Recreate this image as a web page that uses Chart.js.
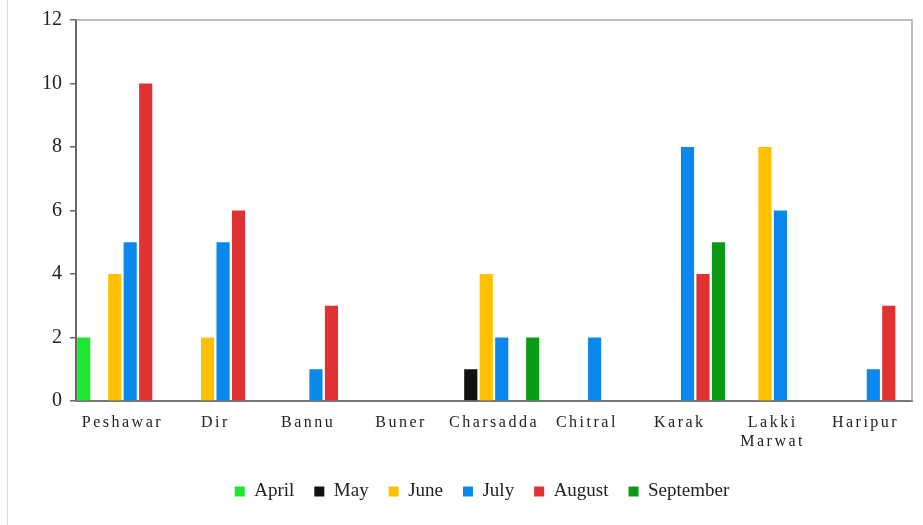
<!DOCTYPE html>
<html>
<head>
<meta charset="utf-8">
<script src="https://cdn.jsdelivr.net/npm/chart.js@4"></script>
<style>
  html, body { margin: 0; background: #fff; }
  #wrap { width: 923px; height: 525px; position: relative; }
</style>
</head>
<body>
<div id="wrap"><canvas id="chart"></canvas></div>
<script>
// data
const districts = ['Peshawar', 'Dir', 'Bannu', 'Buner', 'Charsadda', 'Chitral', 'Karak', ['Lakki', 'Marwat'], 'Haripur'];
const april     = [2, null, null, null, null, null, null, null, null];
const may       = [null, null, null, null, 1, null, null, null, null];
const june      = [4, 2, null, null, 4, null, null, 8, null];
const july      = [5, 5, 1, null, 2, 2, 8, 6, 1];
const august    = [10, 6, 3, null, null, null, 4, null, 3];
const september = [null, null, null, null, 2, null, 5, null, null];
const yTicks    = [0, 2, 4, 6, 8, 10, 12];

const serif = "'Liberation Serif', 'Times New Roman', serif";

// frame lines (top + right) and the faint page edge on the left
const framePlugin = {
  id: 'frame',
  afterUpdate(chart) {
    // legend sits a bit right of the canvas centre in the original
    const lg = chart.legend;
    lg.left += 11;
    lg.right += 11;
    lg.adjustHitBoxes();
  },
  beforeDraw(chart) {
    const ctx = chart.ctx;
    ctx.save();
    ctx.fillStyle = '#dcdcdc';
    ctx.fillRect(7, 0, 1, chart.height);
    ctx.restore();
  },
  beforeDatasetsDraw(chart) {
    const { ctx, chartArea } = chart;
    ctx.save();
    ctx.strokeStyle = '#a8a8a8';
    ctx.lineWidth = 1.5;
    ctx.beginPath();
    ctx.moveTo(chartArea.left, chartArea.top);
    ctx.lineTo(chartArea.right, chartArea.top);
    ctx.lineTo(chartArea.right, chartArea.bottom);
    ctx.stroke();
    ctx.restore();
  }
};

// category labels are letter-spaced in the original
const spacingPlugin = {
  id: 'spacing',
  beforeDraw(chart) {
    const x = chart.scales.x;
    if (x._spaced) return;
    const orig = x.drawLabels;
    x.drawLabels = function(area) {
      this.ctx.save();
      this.ctx.letterSpacing = '2.5px';
      orig.call(this, area);
      this.ctx.restore();
    };
    x._spaced = true;
  }
};

const ctx = document.getElementById('chart').getContext('2d');
new Chart(ctx, {
  type: 'bar',
  data: {
    labels: districts,
    datasets: [
      { label: 'April', data: april, backgroundColor: '#1ee52e' },
      { label: 'May', data: may, backgroundColor: '#111111' },
      { label: 'June', data: june, backgroundColor: '#ffc000' },
      { label: 'July', data: july, backgroundColor: '#0a88ee' },
      { label: 'August', data: august, backgroundColor: '#e03232' },
      { label: 'September', data: september, backgroundColor: '#0b9a16' }
    ]
  },
  options: {
    responsive: true,
    maintainAspectRatio: false,
    animation: false,
    layout: { padding: { left: 30, right: 11, top: 19, bottom: 14 } },
    datasets: { bar: { categoryPercentage: 1.0, barPercentage: 0.85 } },
    scales: {
      y: {
        min: 0,
        max: 12,
        afterFit(s) { s.width = 46; },
        afterBuildTicks(s) { s.ticks = yTicks.map(v => ({ value: v })); },
        ticks: { font: { family: serif, size: 20 }, color: '#222', padding: 8 },
        grid: { drawOnChartArea: false, drawTicks: true, tickLength: 6, color: '#666', lineWidth: 1.5 },
        border: { color: '#666', width: 2 }
      },
      x: {
        afterFit(s) { s.height = 61; },
        ticks: { font: { family: serif, size: 16 }, color: '#222', padding: 4, autoSkip: false, maxRotation: 0 },
        grid: { display: false },
        border: { color: '#777', width: 2 }
      }
    },
    plugins: {
      legend: {
        position: 'bottom',
        labels: { boxWidth: 10, boxHeight: 10, font: { family: serif, size: 19 }, color: '#222', padding: 20 }
      },
      tooltip: { enabled: false }
    }
  },
  plugins: [framePlugin, spacingPlugin]
});
</script>
</body>
</html>
